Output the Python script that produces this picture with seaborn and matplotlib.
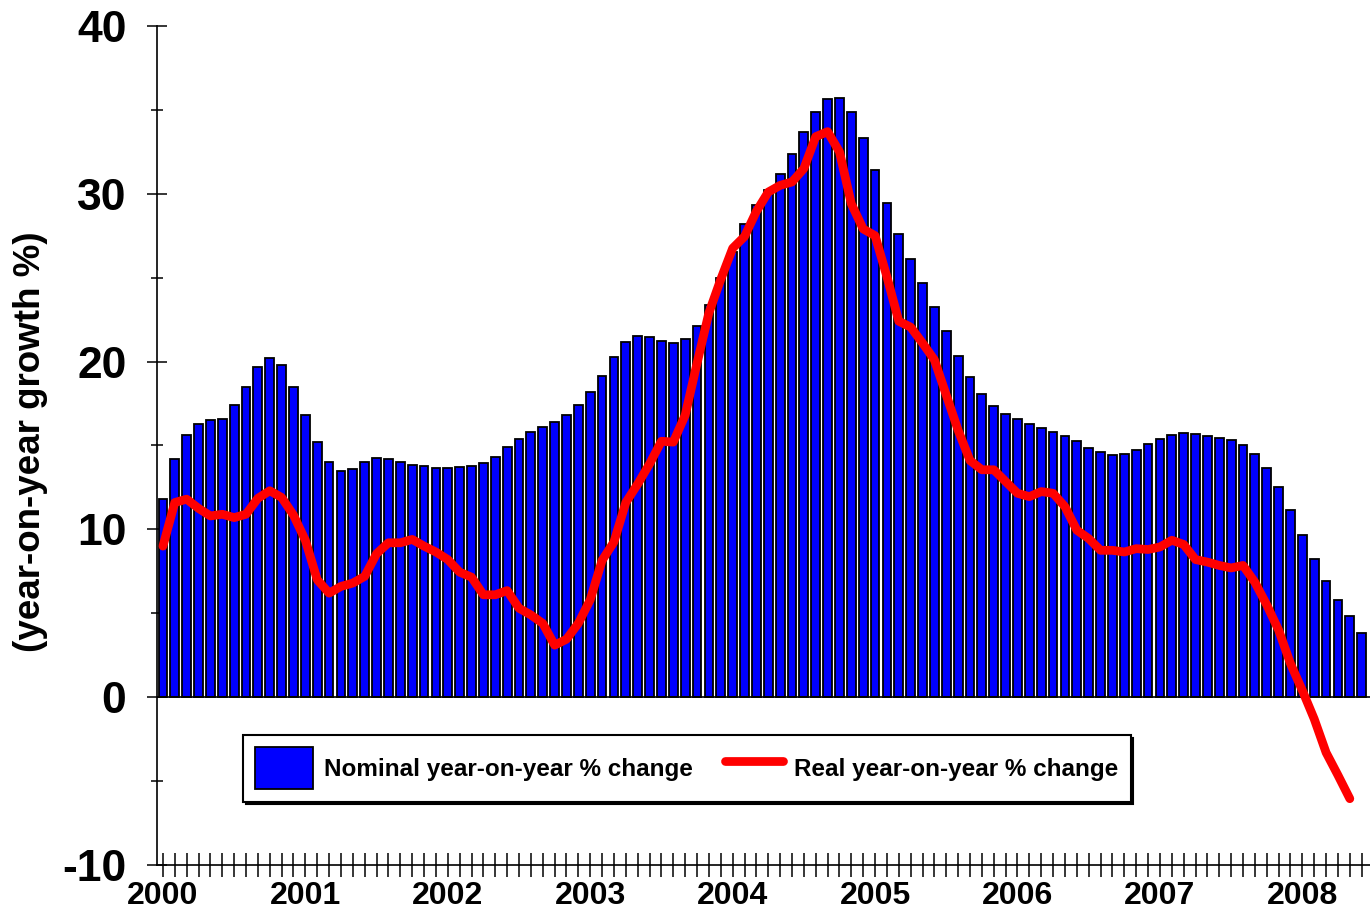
import numpy as np
import pandas as pd
import seaborn as sns
import matplotlib.pyplot as plt
from matplotlib.ticker import MultipleLocator

# monthly data, Jan 2000 onwards
years = [str(y) for y in range(2000, 2009)]

nominal = [
    11.8, 14.2, 15.6, 16.3, 16.5, 16.6, 17.4, 18.5, 19.7, 20.2, 19.8, 18.5,   # 2000
    16.8, 15.2, 14.0, 13.5, 13.6, 14.0, 14.25, 14.2, 14.0, 13.85, 13.75, 13.65,  # 2001
    13.65, 13.7, 13.8, 13.95, 14.3, 14.9, 15.4, 15.8, 16.1, 16.4, 16.8, 17.4,  # 2002
    18.2, 19.15, 20.3, 21.15, 21.5, 21.45, 21.25, 21.1, 21.35, 22.1, 23.35, 24.95,  # 2003
    26.5, 28.2, 29.3, 30.25, 31.2, 32.35, 33.65, 34.9, 35.65, 35.7, 34.85, 33.3,  # 2004
    31.4, 29.45, 27.6, 26.1, 24.7, 23.25, 21.8, 20.35, 19.1, 18.05, 17.35, 16.85,  # 2005
    16.55, 16.25, 16.05, 15.8, 15.55, 15.25, 14.85, 14.6, 14.45, 14.5, 14.7, 15.1,  # 2006
    15.4, 15.65, 15.75, 15.7, 15.55, 15.45, 15.3, 15.05, 14.5, 13.65, 12.55, 11.15,  # 2007
    9.65, 8.25, 6.95, 5.8, 4.85, 3.85,  # 2008
]

real = [
    9.0, 11.6, 11.8, 11.25, 10.8, 10.9, 10.7, 10.9, 11.85, 12.3, 11.9, 10.85,
    9.35, 7.0, 6.2, 6.6, 6.8, 7.2, 8.55, 9.2, 9.2, 9.4, 9.0, 8.65,
    8.2, 7.45, 7.15, 6.1, 6.1, 6.35, 5.3, 4.9, 4.4, 3.1, 3.45, 4.4,
    5.8, 8.15, 9.25, 11.6, 12.7, 13.9, 15.25, 15.2, 16.8, 19.9, 22.9, 24.9,
    26.75, 27.45, 28.95, 30.1, 30.5, 30.7, 31.5, 33.4, 33.7, 32.5, 29.4, 27.9,
    27.5, 25.05, 22.4, 22.05, 21.1, 20.1, 18.0, 15.9, 14.1, 13.55, 13.55, 12.85,
    12.15, 11.95, 12.25, 12.15, 11.35, 9.95, 9.45, 8.75, 8.75, 8.65, 8.85, 8.8,
    8.95, 9.35, 9.1, 8.2, 8.05, 7.85, 7.7, 7.85, 6.85, 5.5, 4.0, 2.0,
    0.4, -1.3, -3.3, -4.65, -6.05,
]

df_nom = pd.DataFrame({"month": np.arange(len(nominal)), "value": nominal})
df_real = pd.DataFrame({"month": np.arange(len(real)), "value": real})

sns.set_style("ticks")
plt.rcParams["font.family"] = ["Liberation Sans", "DejaVu Sans"]
plt.rcParams["font.weight"] = "bold"
plt.rcParams["text.color"] = "black"
plt.rcParams["xtick.color"] = "black"
plt.rcParams["ytick.color"] = "black"
plt.rcParams["xtick.labelcolor"] = "black"
plt.rcParams["ytick.labelcolor"] = "black"
plt.rcParams["axes.unicode_minus"] = False

fig = plt.figure(figsize=(13.7, 9.13), dpi=100)
ax = fig.add_axes([0.1146, 0.0526, 0.8854, 0.9190])

sns.barplot(data=df_nom, x="month", y="value", native_scale=True,
            color="#0000ff", saturation=1, width=0.74,
            edgecolor="black", linewidth=1.3,
            label="Nominal year-on-year % change", ax=ax)
sns.lineplot(data=df_real, x="month", y="value", color="#ff0000",
             linewidth=6.3, solid_capstyle="round", solid_joinstyle="round",
             label="Real year-on-year % change", ax=ax)

ax.axhline(0, color="black", linewidth=1.2, zorder=1.5)

ax.set_xlim(-0.5, 101.7)
ax.set_ylim(-10, 40)
sns.despine(ax=ax)
for sp in ["left", "bottom"]:
    ax.spines[sp].set_linewidth(1.2)
    ax.spines[sp].set_color("black")

ax.set_xticks(range(0, len(nominal), 12), labels=years)
ax.set_xticks(range(len(nominal)), minor=True)
ax.tick_params(axis="x", which="both", direction="inout", length=17,
               width=1.1, color="black")
ax.tick_params(axis="x", which="major", labelsize=23, pad=3)

ax.set_yticks(range(-10, 41, 10))
ax.yaxis.set_minor_locator(MultipleLocator(5))
ax.tick_params(axis="y", which="major", direction="inout", length=14,
               width=1.1, labelsize=32, pad=15, color="black")
ax.tick_params(axis="y", which="minor", direction="inout", length=8.5,
               width=1.1, color="black")
ax.set_xlabel("")
ax.set_ylabel("")

fig.text(0.022, 0.516, "(year-on-year growth %)", rotation=90,
         ha="center", va="center", fontsize=26.5, fontweight="bold")

handles, labels = ax.get_legend_handles_labels()
order = [labels.index("Nominal year-on-year % change"),
         labels.index("Real year-on-year % change")]
leg = ax.legend([handles[i] for i in order], [labels[i] for i in order],
                loc="upper left", bbox_to_anchor=(0.0709, 0.155), ncol=2,
                frameon=True, fancybox=False, framealpha=1,
                shadow={"color": "black", "alpha": 1},
                prop={"weight": "bold", "size": 17.5},
                handlelength=2.4, handleheight=2.3, handletextpad=0.45,
                columnspacing=1.3, borderpad=0.5, borderaxespad=0,
                edgecolor="black")
leg.get_frame().set_linewidth(1.5)

fig.savefig("out.png", dpi=100)
